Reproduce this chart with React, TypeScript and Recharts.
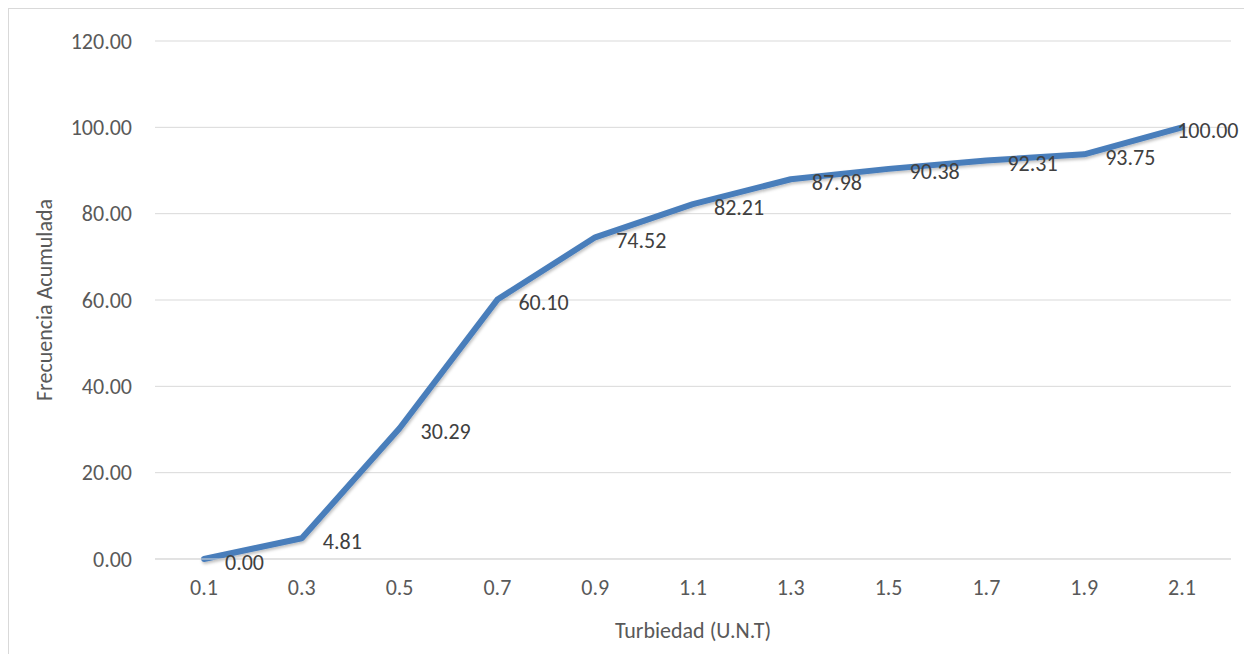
import {
  LineChart,
  Line,
  XAxis,
  YAxis,
  CartesianGrid,
  LabelList,
  Label,
} from "recharts";

const turbidity = ["0.1", "0.3", "0.5", "0.7", "0.9", "1.1", "1.3", "1.5", "1.7", "1.9", "2.1"];
const cumulative = [0.0, 4.81, 30.29, 60.1, 74.52, 82.21, 87.98, 90.38, 92.31, 93.75, 100.0];
const yTicks = [0, 20, 40, 60, 80, 100, 120];

const chartData = turbidity.map((t, i) => ({ turbidity: t, cumulative: cumulative[i] }));

const CHART_W = 1243;
const CHART_H = 645;
const FONT = "Calibri, Carlito, Lato, 'Open Sans', sans-serif";
const FS = 22;

// Excel-style "right" data label; pulled back inside the chart when it would overflow
const PointLabel = (props: any) => {
  const x = Number(props.x);
  const y = Number(props.y);
  const text = Number(props.value).toFixed(2);
  const approxWidth = text.length * 11.8;
  const lx = Math.min(x + 21, CHART_W - 4 - approxWidth);
  return (
    <text
      x={lx}
      y={y + 3}
      textAnchor="start"
      dominantBaseline="central"
      fill="#404040"
      fontSize={FS}
      fontFamily={FONT}
    >
      {text}
    </text>
  );
};

export default function App() {
  return (
    <div
      style={{
        width: CHART_W,
        height: CHART_H,
        borderTop: "1px solid #d9d9d9",
        borderLeft: "1px solid #d9d9d9",
        background: "#fff",
      }}
    >
      {/* the chart runs past the window's right and bottom edge; keep scrollbars away */}
      <style>{`html, body { overflow: hidden; }`}</style>
      <LineChart
        width={CHART_W}
        height={CHART_H}
        data={chartData}
        margin={{ top: 32, right: 21, left: 0, bottom: 0 }}
      >
        <defs>
          <filter id="lineShadow" x="-5%" y="-5%" width="110%" height="120%">
            <feDropShadow dx="1" dy="2" stdDeviation="1.5" floodColor="#000" floodOpacity="0.25" />
          </filter>
        </defs>
        <CartesianGrid stroke="#d9d9d9" vertical={false} />
        <XAxis
          dataKey="turbidity"
          padding={{ left: 49, right: 49 }}
          axisLine={{ stroke: "#d9d9d9" }}
          tickLine={false}
          tickSize={0}
          tickMargin={20}
          height={95}
          tick={{ fill: "#595959", fontSize: FS, fontFamily: FONT }}
          interval={0}
        >
          <Label
            value="Turbiedad (U.N.T)"
            position="insideBottom"
            offset={16}
            fill="#595959"
            fontSize={FS}
            fontFamily={FONT}
          />
        </XAxis>
        <YAxis
          domain={[0, 120]}
          ticks={yTicks}
          tickFormatter={(v) => Number(v).toFixed(2)}
          axisLine={false}
          tickLine={false}
          tickSize={0}
          tickMargin={23}
          width={146}
          tick={{ fill: "#595959", fontSize: FS, fontFamily: FONT }}
        >
          <Label
            value="Frecuencia Acumulada"
            angle={-90}
            position="insideLeft"
            offset={35}
            style={{ textAnchor: "middle" }}
            fill="#595959"
            fontSize={FS}
            fontFamily={FONT}
          />
        </YAxis>
        <Line
          type="linear"
          dataKey="cumulative"
          stroke="#4a7ebb"
          strokeWidth={6}
          strokeLinejoin="round"
          strokeLinecap="round"
          dot={false}
          activeDot={false}
          filter="url(#lineShadow)"
          isAnimationActive={false}
        >
          <LabelList dataKey="cumulative" content={<PointLabel />} />
        </Line>
      </LineChart>
    </div>
  );
}
